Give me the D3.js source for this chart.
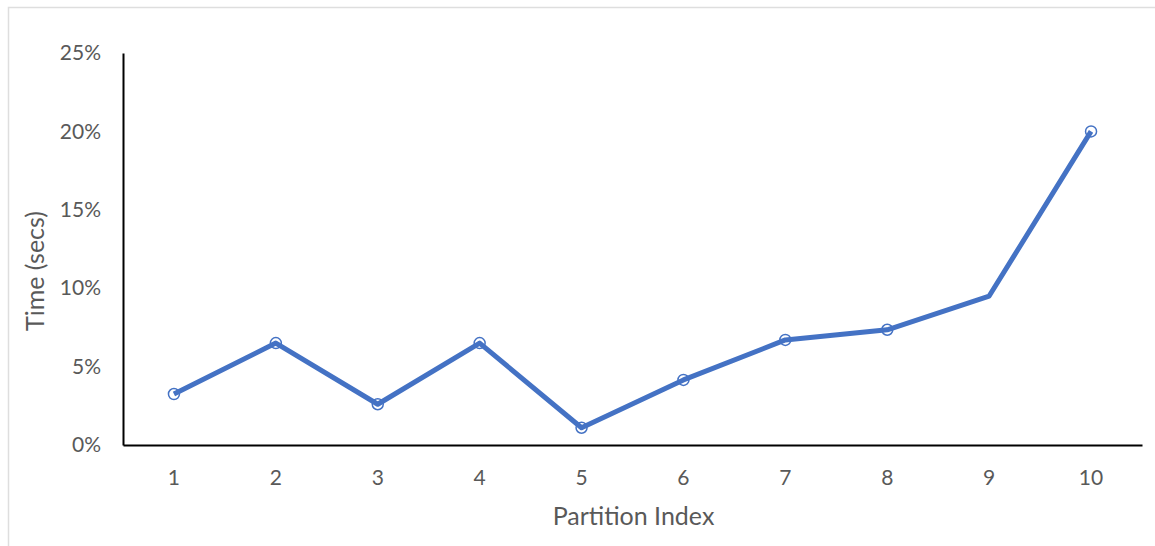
<!DOCTYPE html>
<html>
<head>
<meta charset="utf-8">
<script src="https://cdn.jsdelivr.net/npm/d3@7"></script>
<style>
  html, body { margin: 0; padding: 0; background: #fff; }
  svg { display: block; }
  text { font-family: Lato, "Open Sans", sans-serif; fill: #595959; }
</style>
</head>
<body>
<svg id="chart" width="1155" height="546"></svg>
<script>
const categories = ["1", "2", "3", "4", "5", "6", "7", "8", "9", "10"];
const values = [0.0325, 0.065, 0.026, 0.065, 0.011, 0.0415, 0.067, 0.0735, 0.095, 0.20];
const showMarker = [true, true, true, true, true, true, true, true, false, true];
const yTicks = [0, 0.05, 0.10, 0.15, 0.20, 0.25];
const xTitle = "Partition Index";
const yTitle = "Time (secs)";

const svg = d3.select("#chart");
const W = 1155, H = 546;
const m = { left: 123, right: 13, top: 53, bottom: 101 };

// outer chart border
svg.append("rect").attr("x", 8.5).attr("y", 7.5).attr("width", W).attr("height", H)
  .attr("fill", "none").attr("stroke", "#dedede").attr("stroke-width", 1.5);

const x = d3.scaleBand().domain(categories).range([m.left, W - m.right]);
const y = d3.scaleLinear().domain([0, 0.25]).range([H - m.bottom, m.top]);

const xAxis = svg.append("g").attr("transform", `translate(0,${H - m.bottom})`)
  .call(d3.axisBottom(x).tickSize(0).tickPadding(25));
xAxis.select(".domain").attr("stroke", "#000").attr("stroke-width", 2);
xAxis.selectAll("text").style("font-size", "21px").attr("fill", "#595959")
  .style("font-family", "Lato, 'Open Sans', sans-serif");

const yAxis = svg.append("g").attr("transform", `translate(${m.left},0)`)
  .call(d3.axisLeft(y).tickValues(yTicks).tickFormat(d3.format(".0%")).tickSize(0).tickPadding(22));
yAxis.select(".domain").attr("stroke", "#000").attr("stroke-width", 2);
yAxis.selectAll("text").style("font-size", "21px").attr("fill", "#595959")
  .style("font-family", "Lato, 'Open Sans', sans-serif");

const pts = categories.map((c, i) => ({ c, v: values[i], mk: showMarker[i] }));
const cx = d => x(d.c) + x.bandwidth() / 2;

svg.append("g").selectAll("circle").data(pts.filter(d => d.mk)).join("circle")
  .attr("cx", cx).attr("cy", d => y(d.v)).attr("r", 5.5)
  .attr("fill", "#fff").attr("stroke", "#4472C4").attr("stroke-width", 1.5);

svg.append("path").datum(pts)
  .attr("d", d3.line().x(cx).y(d => y(d.v)))
  .attr("fill", "none").attr("stroke", "#4472C4").attr("stroke-width", 5)
  .attr("stroke-linejoin", "round");

svg.append("text").attr("x", (m.left + W - m.right) / 2 + 1).attr("y", 525)
  .attr("text-anchor", "middle").style("font-size", "25px").text(xTitle);

svg.append("text").attr("transform", `translate(44,${(m.top + H - m.bottom) / 2 + 22}) rotate(-90)`)
  .attr("text-anchor", "middle").style("font-size", "25px").text(yTitle);
</script>
</body>
</html>
